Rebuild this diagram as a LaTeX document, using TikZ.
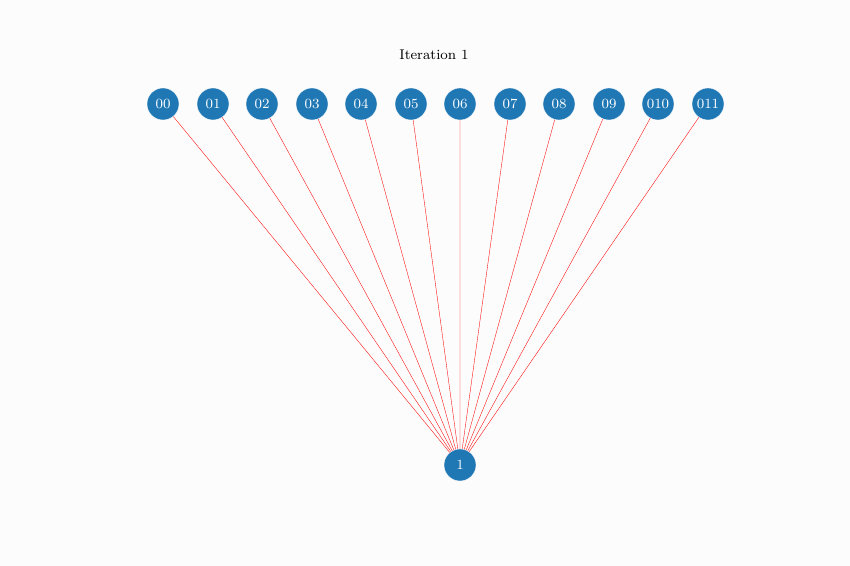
\documentclass[tikz,border=0pt]{standalone}
\usepackage{xcolor}
\usepackage{tikz}
\usetikzlibrary{positioning}
\definecolor{nodeblue}{HTML}{1F77B4}
\tikzset{
vtx/.style={circle, fill=nodeblue, draw=white, very thin, minimum size=0.64cm, inner sep=0pt, text=white, font=\footnotesize},
edge/.style={red, very thin}
}

\begin{document}
\begin{tikzpicture}
\useasboundingbox[fill=white!99!black] (0,0) rectangle (17,11.32);
\node[font=\footnotesize] (title) at (8.68,10.22) {Iteration 1};

\node[vtx] (n00) at (3.26,9.24) {00};
\node[vtx] (n01) at (4.26,9.24) {01};
\node[vtx] (n02) at (5.24,9.24) {02};
\node[vtx] (n03) at (6.24,9.24) {03};
\node[vtx] (n04) at (7.22,9.24) {04};
\node[vtx] (n05) at (8.22,9.24) {05};
\node[vtx] (n06) at (9.2,9.24) {06};
\node[vtx] (n07) at (10.2,9.24) {07};
\node[vtx] (n08) at (11.18,9.24) {08};
\node[vtx] (n09) at (12.18,9.24) {09};
\node[vtx] (n010) at (13.16,9.24) {010};
\node[vtx] (n011) at (14.16,9.24) {011};

\node[vtx] (n1) at (9.2,2.02) {1};

\draw[edge] (n1) -- (n00) (n1) -- (n01) (n1) -- (n02) (n1) -- (n03);
\draw[edge] (n1) -- (n04) (n1) -- (n05) (n1) -- (n06) (n1) -- (n07);
\draw[edge] (n1) -- (n08) (n1) -- (n09) (n1) -- (n010) (n1) -- (n011);
\end{tikzpicture}
\end{document}
